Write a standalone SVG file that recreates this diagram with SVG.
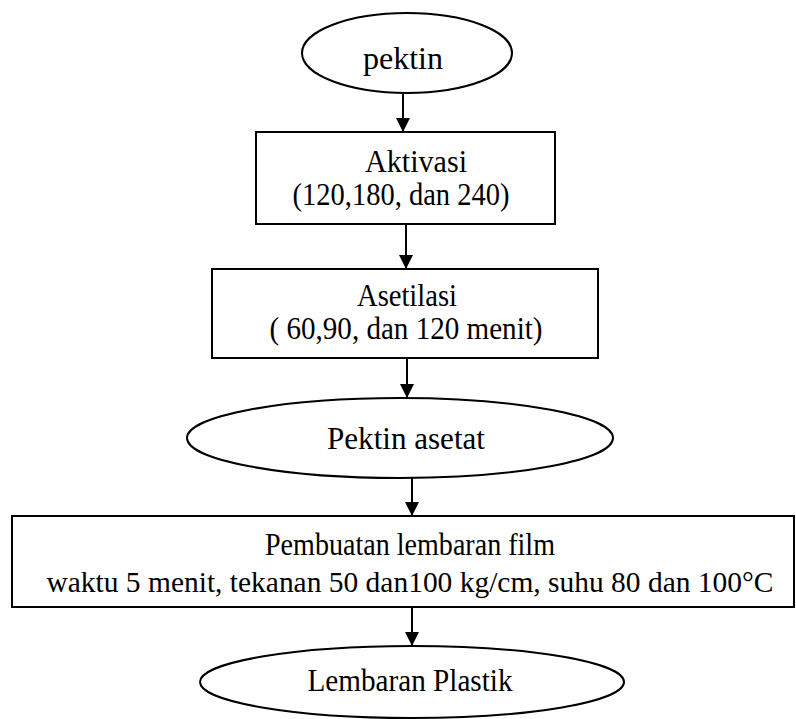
<svg xmlns="http://www.w3.org/2000/svg" width="796" height="719" viewBox="0 0 796 719">
<defs>
<style>
.shape{fill:#fff;stroke:#000;stroke-width:2}
.lbl{font-family:"Liberation Serif","Times New Roman",serif;font-size:31px;fill:#000;text-anchor:middle}
.conn line{stroke:#000;stroke-width:2}
</style>
<marker id="arr" markerUnits="userSpaceOnUse" markerWidth="14" markerHeight="16" refX="14" refY="7" orient="auto" viewBox="0 0 14 14">
<path d="M0,0 L14,7 L0,14 z" fill="#000"/>
</marker>
</defs>
<rect width="796" height="719" fill="#fff"/>
<g id="n1">
<ellipse class="shape" cx="407" cy="53" rx="105" ry="40"/>
<text class="lbl" x="403" y="69" textLength="80" lengthAdjust="spacingAndGlyphs">pektin</text>
</g>
<g id="n2">
<rect class="shape" x="256" y="132" width="299" height="92"/>
<text class="lbl" x="416" y="172" textLength="102" lengthAdjust="spacingAndGlyphs">Aktivasi</text>
<text class="lbl" x="401" y="205" textLength="217" lengthAdjust="spacingAndGlyphs">(120,180, dan 240)</text>
</g>
<g id="n3">
<rect class="shape" x="212" y="269" width="386" height="89"/>
<text class="lbl" x="407" y="306" textLength="100" lengthAdjust="spacingAndGlyphs">Asetilasi</text>
<text class="lbl" x="406" y="339" textLength="273" lengthAdjust="spacingAndGlyphs">( 60,90, dan 120 menit)</text>
</g>
<g id="n4">
<ellipse class="shape" cx="400" cy="438" rx="213" ry="40"/>
<text class="lbl" x="406" y="449" textLength="158" lengthAdjust="spacingAndGlyphs">Pektin asetat</text>
</g>
<g id="n5">
<rect class="shape" x="12" y="516" width="782" height="91"/>
<text class="lbl" x="410" y="555" textLength="290" lengthAdjust="spacingAndGlyphs">Pembuatan lembaran film</text>
<text class="lbl" x="410" y="592" style="font-size:29px" textLength="727" lengthAdjust="spacingAndGlyphs">waktu 5 menit, tekanan 50 dan100 kg/cm, suhu 80 dan 100°C</text>
</g>
<g id="n6">
<ellipse class="shape" cx="412" cy="682" rx="212" ry="36"/>
<text class="lbl" x="410" y="691" textLength="205" lengthAdjust="spacingAndGlyphs">Lembaran Plastik</text>
</g>
<g id="connectors" class="conn">
<line x1="403" y1="93" x2="403" y2="132" marker-end="url(#arr)"/>
<line x1="406" y1="224" x2="406" y2="269" marker-end="url(#arr)"/>
<line x1="407" y1="358" x2="407" y2="398" marker-end="url(#arr)"/>
<line x1="412" y1="478" x2="412" y2="516" marker-end="url(#arr)"/>
<line x1="412" y1="607" x2="412" y2="646" marker-end="url(#arr)"/>
</g>
</svg>
